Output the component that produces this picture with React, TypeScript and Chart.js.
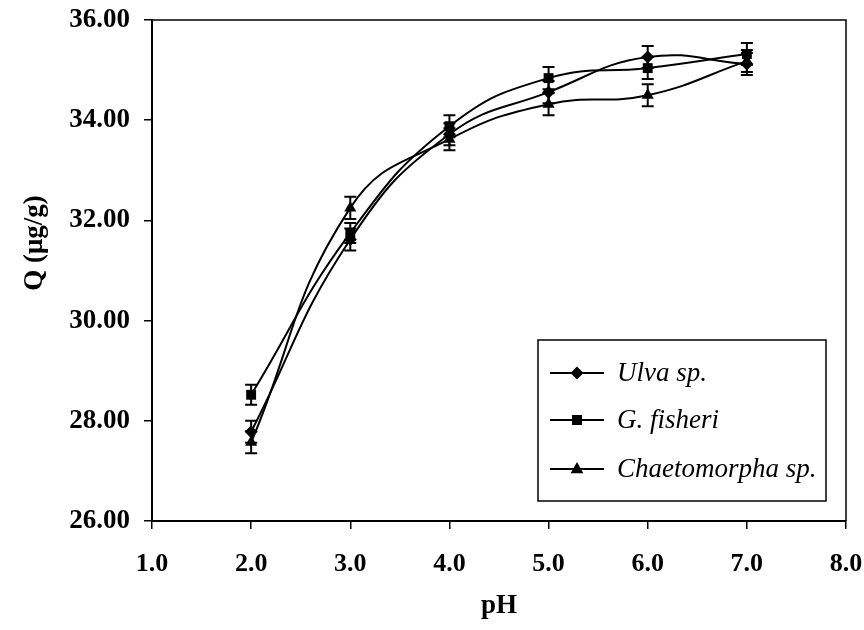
import React, { useEffect, useRef } from 'react';
import { Chart, registerables } from 'chart.js';

Chart.register(...registerables);

// ---- data ----
const phValues = [2, 3, 4, 5, 6, 7];
const seriesNames = ['Ulva sp.', 'G. fisheri', 'Chaetomorpha sp.'];
const ulvaValues = [27.78, 31.62, 33.72, 34.56, 35.26, 35.12];
const gFisheriValues = [28.52, 31.75, 33.88, 34.84, 35.04, 35.32];
const chaetoValues = [27.57, 32.25, 33.62, 34.32, 34.5, 35.18];
const ulvaErrors = [0.22, 0.22, 0.22, 0.22, 0.22, 0.22];
const gFisheriErrors = [0.2, 0.2, 0.22, 0.22, 0.22, 0.22];
const chaetoErrors = [0.22, 0.22, 0.22, 0.22, 0.22, 0.22];
const pointStyles = ['rectRot', 'rect', 'triangle'];
const xTickLabels = ['1.0', '2.0', '3.0', '4.0', '5.0', '6.0', '7.0', '8.0'];
const yTickLabels = ['26.00', '28.00', '30.00', '32.00', '34.00', '36.00'];
const xTitle = 'pH';
const yTitle = 'Q (\u03bcg/g)';

const FONT = '"Liberation Serif", "Times New Roman", serif';

const seriesValues = [ulvaValues, gFisheriValues, chaetoValues];
const seriesErrors = [ulvaErrors, gFisheriErrors, chaetoErrors];

function drawMarker(ctx: CanvasRenderingContext2D, style: string, x: number, y: number) {
  ctx.beginPath();
  if (style === 'rectRot') {
    const r = 6.5;
    ctx.moveTo(x, y - r);
    ctx.lineTo(x + r, y);
    ctx.lineTo(x, y + r);
    ctx.lineTo(x - r, y);
  } else if (style === 'rect') {
    const s = 5;
    ctx.rect(x - s, y - s, 2 * s, 2 * s);
  } else {
    const r = 7;
    ctx.moveTo(x, y - r);
    ctx.lineTo(x + r * 0.9, y + r * 0.6);
    ctx.lineTo(x - r * 0.9, y + r * 0.6);
  }
  ctx.closePath();
  ctx.fill();
}

const errorBarPlugin = {
  id: 'errorBars',
  afterDatasetsDraw(chart: any) {
    const ctx = chart.ctx as CanvasRenderingContext2D;
    const yScale = chart.scales.y;
    ctx.save();
    ctx.strokeStyle = '#000';
    ctx.lineWidth = 2;
    chart.data.datasets.forEach((ds: any, i: number) => {
      const meta = chart.getDatasetMeta(i);
      meta.data.forEach((pt: any, j: number) => {
        const v = seriesValues[i][j];
        const e = seriesErrors[i][j];
        const top = yScale.getPixelForValue(v + e);
        const bot = yScale.getPixelForValue(v - e);
        const x = pt.x;
        ctx.beginPath();
        ctx.moveTo(x, top);
        ctx.lineTo(x, bot);
        ctx.moveTo(x - 6, top);
        ctx.lineTo(x + 6, top);
        ctx.moveTo(x - 6, bot);
        ctx.lineTo(x + 6, bot);
        ctx.stroke();
      });
    });
    ctx.restore();
  },
};

const frameAndLegendPlugin = {
  id: 'frameAndLegend',
  afterDraw(chart: any) {
    const ctx = chart.ctx as CanvasRenderingContext2D;
    const a = chart.chartArea;
    ctx.save();
    ctx.strokeStyle = '#000';
    ctx.lineWidth = 1.5;
    ctx.beginPath();
    ctx.moveTo(a.left, a.top);
    ctx.lineTo(a.right, a.top);
    ctx.lineTo(a.right, a.bottom);
    ctx.stroke();

    // y-axis title
    ctx.save();
    ctx.translate(35, 243);
    ctx.rotate(-Math.PI / 2);
    ctx.fillStyle = '#000';
    ctx.font = `bold 27px ${FONT}`;
    ctx.textAlign = 'center';
    ctx.textBaseline = 'middle';
    ctx.fillText(yTitle, 0, 0);
    ctx.restore();

    // legend box (inside plot area, lower right)
    const bx = 538, by = 340, bw = 288, bh = 161;
    ctx.fillStyle = '#fff';
    ctx.fillRect(bx, by, bw, bh);
    ctx.lineWidth = 1.5;
    ctx.strokeRect(bx, by, bw, bh);
    const rows = [373, 420, 469];
    ctx.font = `italic 27px ${FONT}`;
    ctx.textBaseline = 'middle';
    ctx.textAlign = 'left';
    seriesNames.forEach((name, i) => {
      const y = rows[i];
      ctx.strokeStyle = '#000';
      ctx.lineWidth = 2;
      ctx.beginPath();
      ctx.moveTo(550, y);
      ctx.lineTo(604, y);
      ctx.stroke();
      ctx.fillStyle = '#000';
      drawMarker(ctx, pointStyles[i], 577, y);
      ctx.fillText(name, 617, y + 1);
    });
    ctx.restore();
  },
};

export default function App() {
  const ref = useRef<HTMLCanvasElement>(null);
  useEffect(() => {
    document.body.style.margin = '0';
    const canvas = ref.current;
    if (!canvas) return;
    const datasets = seriesNames.map((name, i) => ({
      label: name,
      data: phValues.map((x, j) => ({ x, y: seriesValues[i][j] })),
      borderColor: '#000',
      backgroundColor: '#000',
      borderWidth: 2,
      pointStyle: pointStyles[i] as any,
      pointRadius: i === 0 ? 6.5 : 7,
      pointBorderWidth: 0,
      pointBackgroundColor: '#000',
      tension: 0.45,
      fill: false,
    }));
    const chart = new Chart(canvas, {
      type: 'line',
      data: { datasets },
      plugins: [errorBarPlugin, frameAndLegendPlugin],
      options: {
        animation: false,
        responsive: false,
        maintainAspectRatio: false,
        layout: { padding: { top: 20, right: 18, bottom: 0, left: 0 } },
        plugins: { legend: { display: false }, tooltip: { enabled: false } },
        scales: {
          x: {
            type: 'linear',
            min: 1,
            max: 8,
            ticks: {
              stepSize: 1,
              autoSkip: false,
              maxRotation: 0,
              padding: 20,
              color: '#000',
              font: { family: FONT, size: 26, weight: 'bold' },
              callback: (v: any, idx: number) => xTickLabels[idx] ?? Number(v).toFixed(1),
            },
            grid: { drawOnChartArea: false, drawTicks: true, tickLength: 8, color: '#000', lineWidth: 1.5 },
            border: { display: true, color: '#000', width: 2 },
            title: {
              display: true,
              text: xTitle,
              color: '#000',
              font: { family: FONT, size: 27, weight: 'bold' },
              padding: { top: 0, bottom: 8 },
            },
            afterFit: (s: any) => {
              s.height = 109;
              s.paddingLeft = 0;
              s.paddingRight = 0;
            },
          },
          y: {
            type: 'linear',
            min: 26,
            max: 36,
            ticks: {
              stepSize: 2,
              padding: 14,
              color: '#000',
              font: { family: FONT, size: 27, weight: 'bold' },
              callback: (v: any, idx: number) => yTickLabels[idx] ?? Number(v).toFixed(2),
            },
            grid: { drawOnChartArea: false, drawTicks: true, tickLength: 8, color: '#000', lineWidth: 1.5 },
            border: { display: true, color: '#000', width: 2 },
            title: { display: false, text: yTitle },
            afterFit: (s: any) => {
              s.width = 152;
              s.paddingTop = 0;
              s.paddingBottom = 0;
            },
          },
        },
      },
    });
    return () => chart.destroy();
  }, []);
  return (
    <div style={{ width: 864, height: 630, background: '#fff' }}>
      <canvas ref={ref} width={864} height={630} />
    </div>
  );
}
